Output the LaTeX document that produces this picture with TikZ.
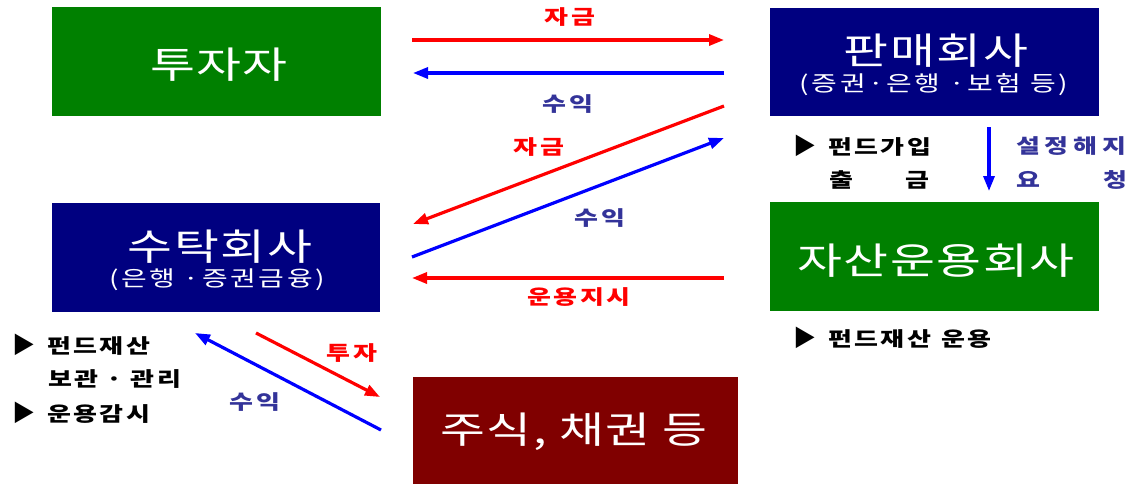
\documentclass[tikz,border=0pt]{standalone}
\usepackage{fontspec}
\usetikzlibrary{arrows.meta}
\newfontfamily\kbox[FakeStretch=1.32,LetterSpace=4]{Noto Sans CJK KR}
\newfontfamily\ksub[FakeStretch=1.3,LetterSpace=12]{Noto Sans CJK KR}
\newfontfamily\klab[FakeStretch=1.3,LetterSpace=12]{Noto Sans CJK KR}
\newfontfamily\kwide[FakeStretch=1.3,LetterSpace=24]{Noto Sans CJK KR}
\newfontfamily\ktri{Noto Sans CJK KR}
\definecolor{kgreen}{HTML}{008000}
\definecolor{knavy}{HTML}{000080}
\definecolor{kmaroon}{HTML}{800000}
\definecolor{kred}{HTML}{FF0000}
\definecolor{kblue}{HTML}{0000FF}
\definecolor{klblue}{HTML}{333399}
\newcommand{\tri}{{\ktri\fontsize{23}{24}\selectfont ▶}\hspace{12pt}}
\tikzset{
  box/.style={rectangle, inner sep=0pt, draw=none},
  boxtext/.style={inner sep=0pt, text=white, font=\kbox\fontsize{37}{40}\selectfont},
  subtext/.style={inner sep=0pt, text=white, font=\ksub\fontsize{21.5}{24}\selectfont},
  lab/.style={inner sep=0pt, font=\klab\bfseries\fontsize{20}{23}\selectfont},
  note/.style={lab, anchor=west, text=black},
  redarrow/.style={draw=kred, line width=3.2pt, -{Triangle[length=15pt,width=11pt]}},
  bluearrow/.style={draw=kblue, line width=3.2pt, -{Triangle[length=15pt,width=11pt]}}
}
\begin{document}
\begin{tikzpicture}[x=1pt,y=-1pt]
\useasboundingbox (0,0) rectangle (1136,483);
\fill[white] (0,0) rectangle (1136,483);

% boxes
\node[box, fill=kgreen, minimum width=329pt, minimum height=109pt] (inv) at (216.5,61.5) {};
\node[box, fill=knavy, minimum width=329pt, minimum height=108pt] (sell) at (934.5,62) {};
\node[box, fill=knavy, minimum width=328pt, minimum height=109pt] (trust) at (216,257.5) {};
\node[box, fill=kgreen, minimum width=329pt, minimum height=109pt] (am) at (934.5,256.5) {};
\node[box, fill=kmaroon, minimum width=325pt, minimum height=107pt] (sec) at (575.5,430.5) {};

% box texts
\node[boxtext] (invT) at (219,65) {투자자};
\node[boxtext] (sellT) at (936,51) {판매회사};
\node[subtext] (sellS) at (934,85) {(증권·은행 ·보험 등)};
\node[boxtext] (trustT) at (220,247) {수탁회사};
\node[subtext] (trustS) at (217,280) {(은행 ·증권금융)};
\node[boxtext] (amT) at (936,261) {자산운용회사};
\node[boxtext] (secT) at (574,432) {주식, 채권 등};

% arrow end points
\coordinate (r1s) at (412,40);  \coordinate (r1e) at (724,40);
\coordinate (b1s) at (724,73);  \coordinate (b1e) at (413,73);
\coordinate (r2s) at (724,106); \coordinate (r2e) at (413,224);
\coordinate (b2s) at (412,257); \coordinate (b2e) at (724,138);
\coordinate (r3s) at (724,278); \coordinate (r3e) at (412,278);
\coordinate (bvs) at (989,127); \coordinate (bve) at (989,191);
\coordinate (r4s) at (256,333); \coordinate (r4e) at (380,397);
\coordinate (b4s) at (381,430); \coordinate (b4e) at (195,333);

\draw[redarrow] (r1s) -- (r1e);
\draw[bluearrow] (b1s) -- (b1e);
\draw[redarrow] (r2s) -- (r2e);
\draw[bluearrow] (b2s) -- (b2e);
\draw[redarrow] (r3s) -- (r3e);
\draw[bluearrow] (bvs) -- (bve);
\draw[redarrow] (r4s) -- (r4e);
\draw[bluearrow] (b4s) -- (b4e);

% arrow labels
\node[lab, text=kred] (l1) at (570,17) {자금};
\node[lab, text=klblue] (l2) at (568,104) {수익};
\node[lab, text=kred] (l3) at (539,147) {자금};
\node[lab, text=klblue] (l4) at (600,218) {수익};
\node[lab, text=kred] (l5) at (579,297) {운용지시};
\node[lab, text=kred] (l6) at (352,353) {투자};
\node[lab, text=klblue] (l7) at (255,402) {수익};

% notes
\node[note, text=klblue, font=\kwide\bfseries\fontsize{20}{23}\selectfont] (n1) at (1016,146) {설정해지};
\node[note, text=klblue] (n2) at (1016,180) {요\hspace{63pt}청};
\node[note] (n3) at (793,146) {\tri 펀드가입};
\node[note] (n4) at (829,180) {출\hspace{52pt}금};
\node[note] (n5) at (793,338) {\tri 펀드재산\hspace{10pt}운용};
\node[note] (n6) at (12,345) {\tri 펀드재산};
\node[note] (n7) at (48,379) {보관 · 관리};
\node[note] (n8) at (12,413) {\tri 운용감시};
\end{tikzpicture}
\end{document}
